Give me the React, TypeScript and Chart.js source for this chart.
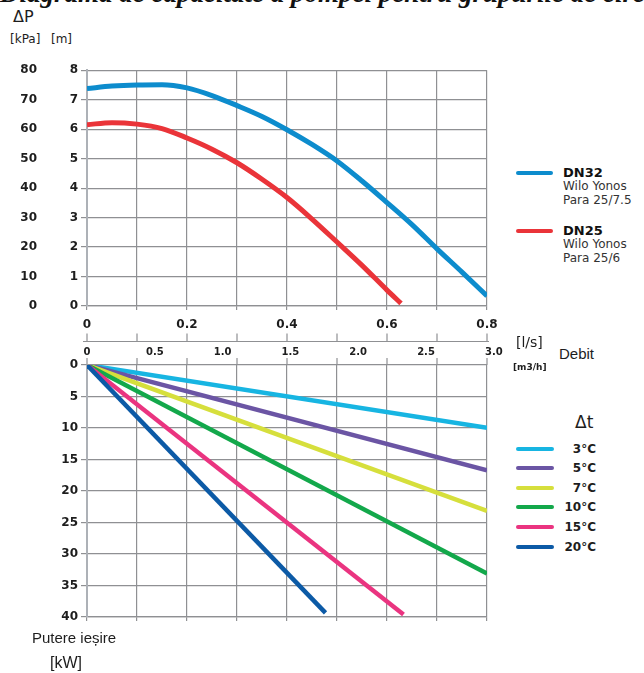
import React, { useEffect, useRef } from 'react';
import { Chart, registerables } from 'chart.js';
Chart.register(...registerables);

// ---- Data ----
const flowDN32 = [0, 0.05, 0.1, 0.15, 0.2, 0.25, 0.3, 0.35, 0.4, 0.45, 0.5, 0.55, 0.6, 0.65, 0.7, 0.75, 0.8];
const headDN32 = [7.38, 7.46, 7.5, 7.51, 7.4, 7.14, 6.8, 6.43, 5.98, 5.48, 4.92, 4.24, 3.51, 2.76, 1.94, 1.15, 0.34];
const flowDN25 = [0, 0.05, 0.1, 0.15, 0.2, 0.25, 0.3, 0.35, 0.4, 0.45, 0.5, 0.55, 0.6, 0.628];
const headDN25 = [6.15, 6.22, 6.17, 6.02, 5.7, 5.32, 4.86, 4.3, 3.68, 2.95, 2.17, 1.38, 0.54, 0.09];

const headTicksM = [0, 1, 2, 3, 4, 5, 6, 7, 8];
const headLabelsKPa = ['0', '10', '20', '30', '40', '50', '60', '70', '80'];
const flowTickLabels = ['0', '', '0.2', '', '0.4', '', '0.6', '', '0.8'];
const m3hTicks = [0, 0.5, 1.0, 1.5, 2.0, 2.5, 3.0];
const m3hLabels = ['0', '0.5', '1.0', '1.5', '2.0', '2.5', '3.0'];

const deltaTLabels = ['3°C', '5°C', '7°C', '10°C', '15°C', '20°C'];
const deltaTEndFlow = [0.8, 0.8, 0.8, 0.8, 0.633, 0.477];
const deltaTEndPower = [9.96, 16.7, 23.15, 33.1, 39.6, 39.35];
const deltaTColors = ['#17b5e2', '#6b55a4', '#d6df3c', '#13a84b', '#ea3480', '#0c5aa6'];

const pumpLabels = ['DN32', 'DN25'];
const pumpSub = [['Wilo Yonos', 'Para 25/7.5'], ['Wilo Yonos', 'Para 25/6']];
const pumpColors = ['#0d8ccd', '#ea3439'];

const NUM_FONT = '"DejaVu Sans", sans-serif';
const GRID = '#8f9093';
const BORDER = '#adb1b7';
const TXT = '#1d1d1d';

function TopChart() {
  const ref = useRef<HTMLCanvasElement>(null);
  useEffect(() => {
    const kpaPlugin = {
      id: 'kpa',
      afterDraw(chart: any) {
        const ctx = chart.ctx;
        const y = chart.scales.y;
        ctx.save();
        ctx.font = 'bold 12px ' + NUM_FONT;
        ctx.fillStyle = TXT;
        ctx.textAlign = 'right';
        ctx.textBaseline = 'middle';
        headTicksM.forEach((v, i) => ctx.fillText(headLabelsKPa[i], 37, y.getPixelForValue(v)));
        ctx.restore();
      },
    };
    const chart = new Chart(ref.current!, {
      type: 'line',
      data: {
        datasets: [
          { label: pumpLabels[0], data: flowDN32.map((x, i) => ({ x, y: headDN32[i] })), borderColor: pumpColors[0], borderWidth: 5, pointRadius: 0, cubicInterpolationMode: 'monotone', fill: false, borderCapStyle: 'butt' },
          { label: pumpLabels[1], data: flowDN25.map((x, i) => ({ x, y: headDN25[i] })), borderColor: pumpColors[1], borderWidth: 5, pointRadius: 0, cubicInterpolationMode: 'monotone', fill: false, borderCapStyle: 'butt' },
        ],
      },
      options: {
        responsive: false,
        animation: false,
        maintainAspectRatio: false,
        layout: { padding: { top: 8, right: 23, left: 0, bottom: 0 } },
        plugins: { legend: { display: false }, tooltip: { enabled: false } },
        scales: {
          x: {
            type: 'linear', min: 0, max: 0.8,
            ticks: { stepSize: 0.1, autoSkip: false, maxRotation: 0, padding: 8, color: TXT, font: { family: NUM_FONT, size: 12, weight: 'bold' }, callback: (_v: any, i: number) => flowTickLabels[i] ?? '' },
            grid: { color: GRID, lineWidth: 1.2, tickLength: 4 },
            border: { color: GRID, width: 1.2 },
            afterFit: (s: any) => { s.height = 34; },
          },
          y: {
            type: 'linear', min: 0, max: 8,
            ticks: { stepSize: 1, padding: 3, color: TXT, font: { family: NUM_FONT, size: 12, weight: 'bold' } },
            grid: { color: GRID, lineWidth: 1.2, tickLength: 6 },
            border: { color: BORDER, width: 2 },
            afterFit: (s: any) => { s.width = 87; },
          },
        },
      } as any,
      plugins: [kpaPlugin],
    });
    return () => chart.destroy();
  }, []);
  return <canvas ref={ref} width={510} height={280} style={{ position: 'absolute', left: 0, top: 60, width: 510, height: 280 }} />;
}

function BottomChart() {
  const ref = useRef<HTMLCanvasElement>(null);
  useEffect(() => {
    const m3hPlugin = {
      id: 'm3h',
      afterDraw(chart: any) {
        const ctx = chart.ctx;
        const x = chart.scales.x;
        const xm = chart.scales.xm;
        const top = chart.chartArea.top;
        const lineY = top - 23.5;
        ctx.save();
        ctx.strokeStyle = GRID;
        ctx.lineWidth = 1.2;
        ctx.beginPath();
        ctx.moveTo(x.left - 4, lineY);
        ctx.lineTo(x.right + 2, lineY);
        x.ticks.forEach((t: any) => {
          const px = x.getPixelForValue(t.value);
          ctx.moveTo(px, lineY - 8);
          ctx.lineTo(px, lineY);
          ctx.moveTo(px, top - 7);
          ctx.lineTo(px, top);
        });
        ctx.stroke();
        ctx.font = 'bold 10px ' + NUM_FONT;
        ctx.fillStyle = TXT;
        ctx.textAlign = 'center';
        ctx.textBaseline = 'middle';
        m3hTicks.forEach((v, i) => ctx.fillText(m3hLabels[i], xm.getPixelForValue(v), lineY + 10.5));
        ctx.restore();
      },
    };
    const chart = new Chart(ref.current!, {
      type: 'line',
      data: {
        datasets: deltaTLabels.map((lab, i) => ({
          label: lab,
          data: [{ x: 0, y: 0 }, { x: deltaTEndFlow[i], y: deltaTEndPower[i] }],
          borderColor: deltaTColors[i],
          borderWidth: 4.5,
          pointRadius: 0,
          fill: false,
          borderCapStyle: 'butt',
          order: deltaTLabels.length - i,
        })),
      },
      options: {
        responsive: false,
        animation: false,
        maintainAspectRatio: false,
        layout: { padding: { top: 35, right: 23, left: 0, bottom: 0 } },
        plugins: { legend: { display: false }, tooltip: { enabled: false } },
        scales: {
          x: {
            type: 'linear', min: 0, max: 0.8, position: 'bottom',
            ticks: { stepSize: 0.1, display: false },
            grid: { color: GRID, lineWidth: 1.2, tickLength: 4 },
            border: { color: GRID, width: 1.2 },
            afterFit: (s: any) => { s.height = 13; },
          },
          xm: { type: 'linear', axis: 'x', position: 'top', display: false, min: 0, max: 2.95 },
          y: {
            type: 'linear', min: 0, max: 40, reverse: true,
            ticks: { stepSize: 5, padding: 3, color: TXT, font: { family: NUM_FONT, size: 12, weight: 'bold' } },
            grid: { color: GRID, lineWidth: 1.2, tickLength: 6 },
            border: { color: BORDER, width: 2 },
            afterFit: (s: any) => { s.width = 87; },
          },
        },
      } as any,
      plugins: [m3hPlugin],
    });
    return () => chart.destroy();
  }, []);
  return <canvas ref={ref} width={510} height={300} style={{ position: 'absolute', left: 0, top: 330, width: 510, height: 300 }} />;
}

function T(props: { x: number; y: number; children: any; style?: any }) {
  return (
    <div style={{ position: 'absolute', left: props.x, top: props.y, transform: 'translateY(-50%)', lineHeight: 1, whiteSpace: 'nowrap', color: TXT, fontFamily: NUM_FONT, fontSize: 12, ...props.style }}>
      {props.children}
    </div>
  );
}

function Swatch(props: { x: number; y: number; w: number; color: string; h?: number }) {
  const h = props.h ?? 4;
  return <div style={{ position: 'absolute', left: props.x, top: props.y - h / 2, width: props.w, height: h, background: props.color, borderRadius: h / 2 }} />;
}

export default function App() {
  const pumpY = [173, 231];
  const dtY = [449, 468, 487.5, 506.5, 527, 547];
  return (
    <div style={{ position: 'absolute', left: 0, top: 0, width: 644, height: 673, background: '#fff', overflow: 'hidden' }}>
      <div style={{ position: 'absolute', left: 0, top: -20, lineHeight: '27px', fontFamily: '"Liberation Serif", serif', fontWeight: 'bold', fontStyle: 'italic', fontSize: 27, whiteSpace: 'nowrap', color: '#111' }}>
        Diagrama de capacitate a pompei pentru grupurile de circulare
      </div>
      <T x={13} y={17} style={{ fontSize: 16 }}>ΔP</T>
      <T x={10} y={39} style={{ fontSize: 12 }}>[kPa]</T>
      <T x={51} y={39} style={{ fontSize: 12 }}>[m]</T>

      <TopChart />
      <BottomChart />

      {pumpLabels.map((lab, i) => (
        <React.Fragment key={lab}>
          <Swatch x={516} y={pumpY[i]} w={37} color={pumpColors[i]} />
          <T x={563} y={pumpY[i] - 1} style={{ fontSize: 13, fontWeight: 'bold', color: '#111' }}>{lab}</T>
          <T x={563} y={pumpY[i] + 13} style={{ color: '#333' }}>{pumpSub[i][0]}</T>
          <T x={563} y={pumpY[i] + 27} style={{ color: '#333' }}>{pumpSub[i][1]}</T>
        </React.Fragment>
      ))}

      <T x={516} y={342} style={{ fontSize: 14 }}>[l/s]</T>
      <T x={559} y={353} style={{ fontSize: 15, fontFamily: '"Liberation Sans", Arial, sans-serif' }}>Debit</T>
      <T x={513} y={367} style={{ fontSize: 9, fontWeight: 'bold' }}>[m3/h]</T>

      <T x={575} y={422} style={{ fontSize: 17 }}>Δt</T>
      {deltaTLabels.map((lab, i) => (
        <React.Fragment key={lab}>
          <Swatch x={516} y={dtY[i]} w={38} color={deltaTColors[i]} />
          <div style={{ position: 'absolute', right: 644 - 596, top: dtY[i], transform: 'translateY(-50%)', lineHeight: 1, fontFamily: NUM_FONT, fontSize: 12, fontWeight: 'bold', color: TXT, whiteSpace: 'nowrap' }}>{lab}</div>
        </React.Fragment>
      ))}

      <T x={32} y={637} style={{ fontSize: 15, fontFamily: '"Liberation Sans", Arial, sans-serif' }}>Putere ieșire</T>
      <T x={50} y={663} style={{ fontSize: 16, fontFamily: '"Liberation Sans", Arial, sans-serif' }}>[kW]</T>
    </div>
  );
}
